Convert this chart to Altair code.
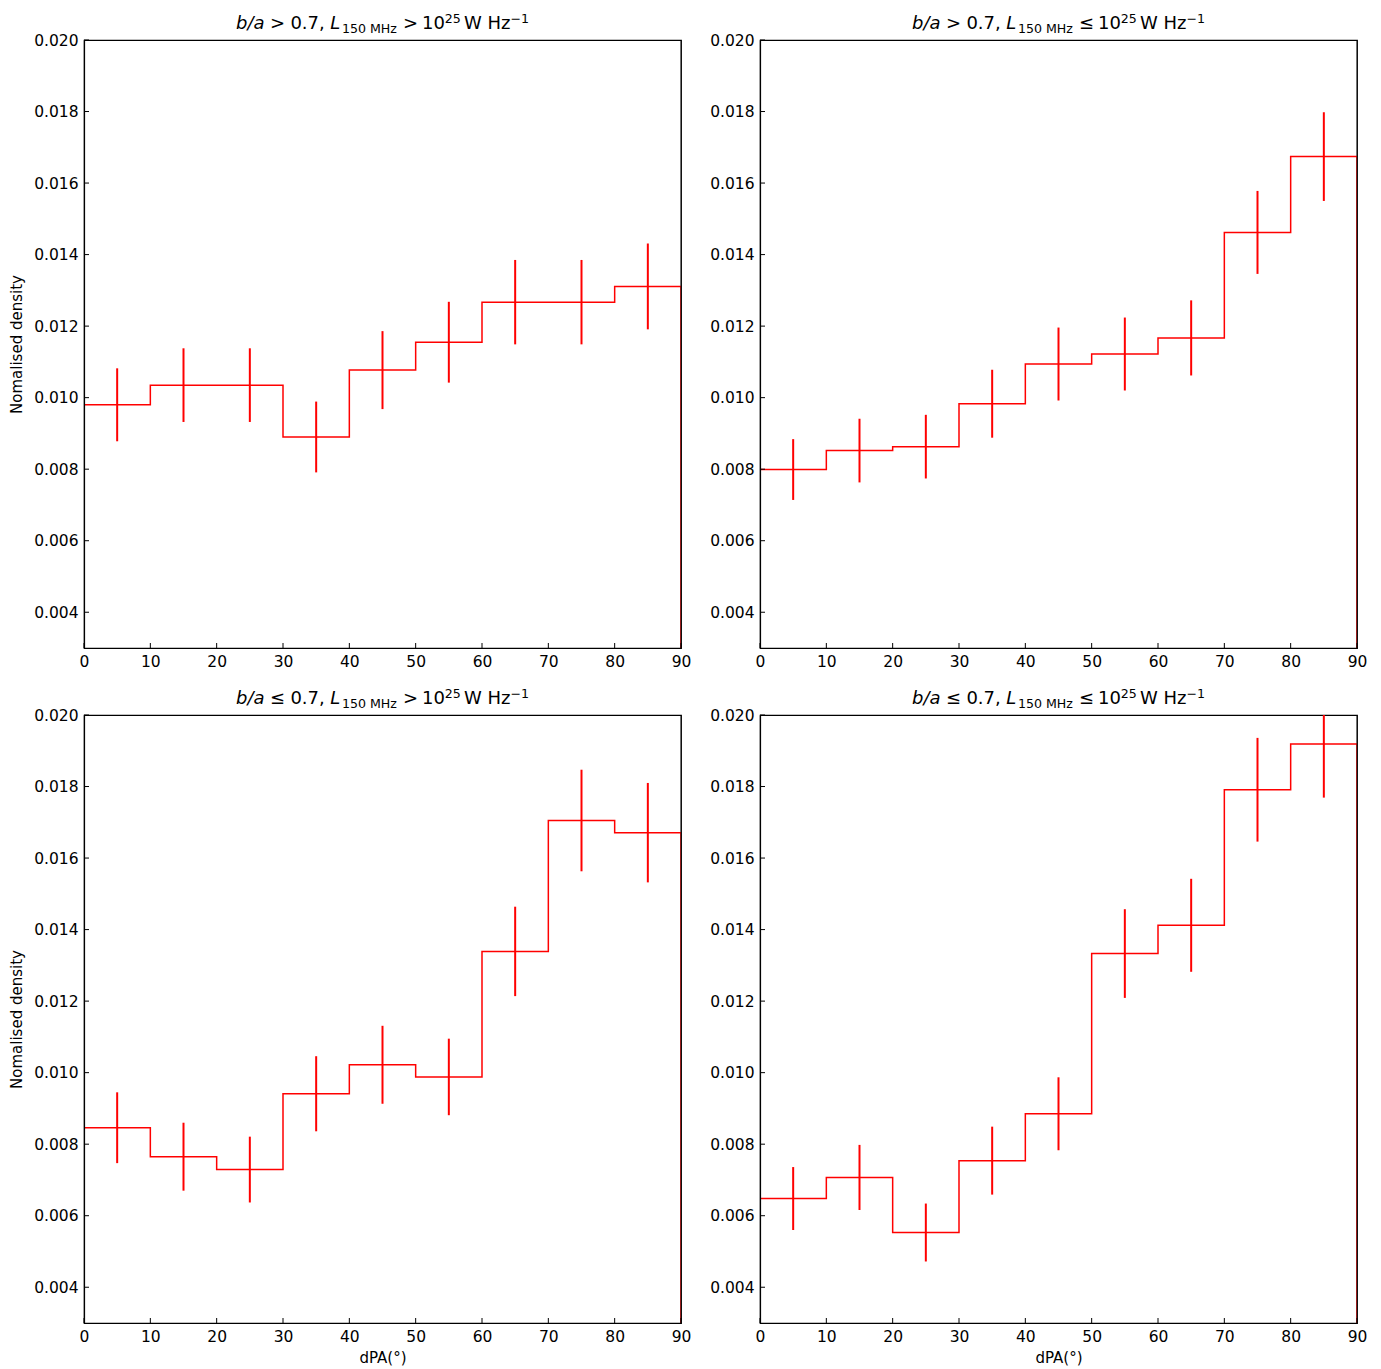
import altair as alt
import pandas as pd

# dPA histogram bins (degrees)
edges = [0, 10, 20, 30, 40, 50, 60, 70, 80, 90]
centres = [5, 15, 25, 35, 45, 55, 65, 75, 85]

# Normalised density per bin and its uncertainty, one pair of lists per panel
dens_tl = [0.00980, 0.01035, 0.01035, 0.00890, 0.01077, 0.01155, 0.01267, 0.01267, 0.01311]
err_tl = [0.00102, 0.00103, 0.00103, 0.00099, 0.00109, 0.00113, 0.00118, 0.00118, 0.00120]

dens_tr = [0.00799, 0.00852, 0.00863, 0.00983, 0.01094, 0.01122, 0.01167, 0.01462, 0.01674]
err_tr = [0.00085, 0.00089, 0.00089, 0.00095, 0.00102, 0.00102, 0.00105, 0.00116, 0.00124]

dens_bl = [0.00846, 0.00765, 0.00729, 0.00941, 0.01022, 0.00988, 0.01339, 0.01705, 0.01671]
err_bl = [0.00099, 0.00095, 0.00092, 0.00105, 0.00109, 0.00107, 0.00125, 0.00142, 0.00139]

dens_br = [0.00648, 0.00707, 0.00553, 0.00754, 0.00885, 0.01333, 0.01412, 0.01791, 0.01919]
err_br = [0.00088, 0.00091, 0.00081, 0.00095, 0.00102, 0.00124, 0.00130, 0.00145, 0.00150]

x_ticks = [0, 10, 20, 30, 40, 50, 60, 70, 80, 90]
y_ticks = [0.004, 0.006, 0.008, 0.010, 0.012, 0.014, 0.016, 0.018, 0.020]
y_limits = [0.003, 0.020]

FONT = "DejaVu Sans"
RED = "#ff0000"
PLOT_W, PLOT_H = 597, 608
TICK_LEN = 5
TITLE_FS = 18
TITLE_Y = -11

# DejaVu Sans advance widths (em) for the characters used in the panel titles
ADV = {"b": 0.635, "/": 0.337, "a": 0.613, " ": 0.318, ">": 0.838, "≤": 0.838,
       "0": 0.636, "1": 0.636, "2": 0.636, "5": 0.636, "7": 0.636, ".": 0.318,
       ",": 0.318, "L": 0.557, "M": 0.863, "H": 0.752, "z": 0.525, "W": 0.989,
       "−": 0.838}


def text_width(s, size):
    return sum(ADV.get(c, 0.6) for c in s) * size


def title_layers(ratio_op, lum_op):
    # (text, relative size, vertical shift px, style, gap after in em of main size)
    segs = [
        ("b/a", 1.0, 0, "italic", 0.30),
        (ratio_op, 1.0, 0, "normal", 0.30),
        ("0.7,", 1.0, 0, "normal", 0.30),
        ("L", 1.0, 0, "italic", 0.10),
        ("150 MHz", 0.7, 3.5, "normal", 0.33),
        (lum_op, 1.0, 0, "normal", 0.22),
        ("10", 1.0, 0, "normal", 0.0),
        ("25", 0.7, -6.5, "normal", 0.17),
        ("W Hz", 1.0, 0, "normal", 0.0),
        ("−1", 0.7, -6.5, "normal", 0.0),
    ]
    total = sum(text_width(s, TITLE_FS * f) + g * TITLE_FS for s, f, _, _, g in segs)
    x = PLOT_W / 2 - total / 2
    layers = []
    for s, f, dy, style, gap in segs:
        fs = TITLE_FS * f
        layers.append(
            alt.Chart(alt.Data(values=[{}]))
            .mark_text(text=s, fontSize=fs, fontStyle=style, font=FONT,
                       align="left", baseline="alphabetic", color="black")
            .encode(x=alt.value(x), y=alt.value(TITLE_Y + dy))
        )
        x += text_width(s, fs) + gap * TITLE_FS
    return layers


def panel(dens, err, ratio_op, lum_op, show_ylabel, show_xlabel):
    xscale = alt.Scale(domain=[0, 90], nice=False, zero=False)
    yscale = alt.Scale(domain=y_limits, nice=False, zero=False)
    xaxis = alt.Axis(values=x_ticks, format="d", ticks=False, grid=False,
                     labelFlush=False, labelPadding=6, titlePadding=6, zindex=1)
    yaxis = alt.Axis(values=y_ticks, format=".3f", ticks=False, grid=False,
                     labelFlush=False, labelPadding=6, titlePadding=9, zindex=1)
    xtitle = "dPA(°)" if show_xlabel else None
    ytitle = "Nomalised density" if show_ylabel else None

    def X(field):
        return alt.X(field, type="quantitative", scale=xscale, axis=xaxis, title=xtitle)

    def Y(field):
        return alt.Y(field, type="quantitative", scale=yscale, axis=yaxis, title=ytitle)

    # step outline of the histogram, dropping to the baseline at both ends
    xs = [edges[0]] + edges[:-1] + [edges[-1], edges[-1]]
    ys = [0.0] + dens + [dens[-1], 0.0]
    step_df = pd.DataFrame({"dpa": xs, "dens": ys, "k": list(range(len(xs)))})
    step = alt.Chart(step_df).mark_line(
        interpolate="step-after", color=RED, strokeWidth=1.5, clip=True
    ).encode(x=X("dpa"), y=Y("dens"), order="k:Q")

    bar_df = pd.DataFrame({
        "dpa": centres,
        "lo": [d - e for d, e in zip(dens, err)],
        "hi": [d + e for d, e in zip(dens, err)],
    })
    bars = alt.Chart(bar_df).mark_rule(color=RED, strokeWidth=2, clip=True).encode(
        x=X("dpa"), y=Y("lo"), y2="hi"
    )

    # inward-pointing ticks on the left and bottom spines
    ytk = alt.Chart(pd.DataFrame({"yt": y_ticks})).mark_rule(
        color="black", strokeWidth=1
    ).encode(y=Y("yt"), x=alt.value(0), x2=alt.value(TICK_LEN))
    xtk = alt.Chart(pd.DataFrame({"xt": x_ticks})).mark_rule(
        color="black", strokeWidth=1
    ).encode(x=X("xt"), y=alt.value(PLOT_H), y2=alt.value(PLOT_H - TICK_LEN))

    # right spine drawn over the histogram outline
    spine = alt.Chart(alt.Data(values=[{}])).mark_rule(
        color="black", strokeWidth=1.2, opacity=0.6
    ).encode(x=alt.value(PLOT_W), y=alt.value(0), y2=alt.value(PLOT_H))

    return alt.layer(step, bars, ytk, xtk, spine,
                     *title_layers(ratio_op, lum_op)).properties(
        width=PLOT_W, height=PLOT_H
    )


top = alt.hconcat(
    panel(dens_tl, err_tl, ">", ">", True, False),
    panel(dens_tr, err_tr, ">", "≤", False, False),
    spacing=17,
)
bottom = alt.hconcat(
    panel(dens_bl, err_bl, "≤", ">", True, True),
    panel(dens_br, err_br, "≤", "≤", False, True),
    spacing=17,
)

chart = (
    alt.vconcat(top, bottom, spacing=15)
    .properties(padding={"left": 9, "top": 11, "right": 5, "bottom": 0},
                background="white")
    .configure_view(stroke="black", strokeWidth=1.2)
    .configure_axis(
        labelFont=FONT, titleFont=FONT, labelFontSize=15.5, titleFontSize=15,
        labelColor="black", titleColor="black", titleFontWeight="normal",
        domainColor="black", domainWidth=1.2,
    )
)

chart.save("out.html", embed_options={"renderer": "svg", "actions": False})
